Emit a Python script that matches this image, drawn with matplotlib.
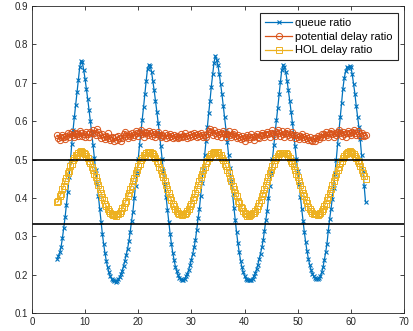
import numpy as np
import matplotlib
matplotlib.use("Agg")
import matplotlib.pyplot as plt

plt.rcParams['font.family'] = ['Liberation Sans', 'DejaVu Sans']

# sampled every 0.25 starting at 4.75
t_start = 4.75
t_step = 0.25

queue_ratio = [
    0.242, 0.249, 0.258, 0.273, 0.296, 0.322, 0.350, 0.382, 0.416, 0.455,
    0.497, 0.540, 0.578, 0.612, 0.643, 0.676, 0.708, 0.741, 0.757,
    0.753, 0.733, 0.710, 0.685, 0.658, 0.630, 0.600, 0.570, 0.538, 0.505,
    0.472, 0.438, 0.404, 0.371, 0.338, 0.307, 0.280, 0.256, 0.236, 0.219,
    0.206, 0.196, 0.189, 0.185, 0.183, 0.182,
    0.184, 0.188, 0.194, 0.202, 0.211, 0.223, 0.237, 0.252, 0.268, 0.287,
    0.312, 0.341, 0.364, 0.400, 0.432, 0.465, 0.502, 0.538, 0.572, 0.604,
    0.636, 0.672, 0.705, 0.737, 0.747,
    0.744, 0.729, 0.705, 0.680, 0.653, 0.625, 0.596, 0.566, 0.534, 0.502,
    0.469, 0.436, 0.402, 0.369, 0.337, 0.307, 0.280, 0.257, 0.238, 0.221,
    0.209, 0.199, 0.192, 0.188, 0.186,
    0.187, 0.190, 0.196, 0.203, 0.213, 0.225, 0.239, 0.254, 0.271, 0.290,
    0.316, 0.347, 0.371, 0.406, 0.440, 0.474, 0.512, 0.549, 0.585, 0.620,
    0.653, 0.690, 0.722, 0.752, 0.770,
    0.760, 0.745, 0.722, 0.697, 0.670, 0.640, 0.610, 0.578, 0.545, 0.512,
    0.478, 0.443, 0.409, 0.375, 0.342, 0.310, 0.282, 0.258, 0.237, 0.220,
    0.207, 0.197, 0.190, 0.186, 0.185, 0.185,
    0.187, 0.190, 0.196, 0.204, 0.214, 0.226, 0.240, 0.255, 0.271, 0.290,
    0.315, 0.343, 0.366, 0.400, 0.432, 0.466, 0.502, 0.537, 0.571, 0.603,
    0.635, 0.670, 0.703, 0.733, 0.747,
    0.740, 0.728, 0.705, 0.680, 0.653, 0.625, 0.596, 0.566, 0.534, 0.502,
    0.469, 0.436, 0.403, 0.371, 0.340, 0.310, 0.284, 0.261, 0.242, 0.226,
    0.213, 0.203, 0.196, 0.191, 0.189,
    0.188, 0.191, 0.196, 0.206, 0.219, 0.238, 0.258, 0.280, 0.315, 0.345,
    0.370, 0.398, 0.427, 0.463, 0.500, 0.540, 0.575, 0.610, 0.648, 0.685,
    0.712, 0.730, 0.741, 0.738, 0.744, 0.741,
    0.722, 0.697, 0.672, 0.640, 0.612, 0.585, 0.553, 0.512, 0.470, 0.432,
    0.390,
]

potential_delay_ratio = [
    0.563, 0.556, 0.551, 0.560, 0.565, 0.558, 0.554, 0.562, 0.568, 0.560,
    0.566, 0.572, 0.563, 0.558, 0.570, 0.566, 0.561, 0.575, 0.569, 0.562,
    0.567, 0.560, 0.571, 0.566, 0.558, 0.573, 0.569, 0.577, 0.570, 0.564,
    0.580, 0.572, 0.563, 0.556, 0.567, 0.560, 0.553, 0.562, 0.568, 0.557,
    0.551, 0.560, 0.556, 0.548, 0.558, 0.552, 0.562, 0.557, 0.547, 0.555,
    0.566, 0.572, 0.561, 0.555, 0.567, 0.562, 0.570, 0.558, 0.565, 0.574,
    0.568, 0.562, 0.571, 0.577, 0.566, 0.560, 0.572, 0.568, 0.563, 0.575,
    0.569, 0.562, 0.573, 0.566, 0.560, 0.567, 0.571, 0.563, 0.558, 0.565,
    0.561, 0.568, 0.557, 0.563, 0.559, 0.566, 0.561, 0.556, 0.564, 0.558,
    0.562, 0.555, 0.560, 0.566, 0.558, 0.562, 0.568, 0.561, 0.557, 0.565,
    0.559, 0.566, 0.562, 0.570, 0.563, 0.558, 0.566, 0.561, 0.569, 0.564,
    0.558, 0.565, 0.560, 0.567, 0.574, 0.580, 0.571, 0.565, 0.576, 0.569,
    0.562, 0.572, 0.566, 0.560, 0.569, 0.575, 0.566, 0.559, 0.567, 0.574,
    0.565, 0.558, 0.566, 0.571, 0.562, 0.557, 0.565, 0.560, 0.554, 0.562,
    0.556, 0.549, 0.558, 0.564, 0.553, 0.560, 0.566, 0.558, 0.552, 0.561,
    0.567, 0.560, 0.555, 0.563, 0.570, 0.564, 0.558, 0.566, 0.573, 0.567,
    0.560, 0.570, 0.576, 0.566, 0.561, 0.571, 0.578, 0.568, 0.562, 0.574,
    0.567, 0.560, 0.569, 0.575, 0.565, 0.558, 0.567, 0.572, 0.563, 0.556,
    0.564, 0.560, 0.554, 0.562, 0.567, 0.559, 0.553, 0.561, 0.556, 0.550,
    0.558, 0.552, 0.547, 0.555, 0.549, 0.556, 0.561, 0.553, 0.559, 0.566,
    0.560, 0.567, 0.572, 0.563, 0.558, 0.568, 0.575, 0.566, 0.560, 0.570,
    0.563, 0.571, 0.577, 0.568, 0.562, 0.573, 0.566, 0.559, 0.568, 0.575,
    0.569, 0.563, 0.572, 0.578, 0.570, 0.565, 0.574, 0.568, 0.562, 0.570,
    0.565, 0.561, 0.563,
]

hol_delay_ratio = [
    0.389, 0.392, 0.405, 0.411, 0.424, 0.431, 0.445, 0.452, 0.465, 0.471,
    0.483, 0.489, 0.499, 0.503, 0.511, 0.513, 0.518, 0.520, 0.521,
    0.520, 0.517, 0.515, 0.509, 0.505, 0.497, 0.491, 0.481, 0.474, 0.463,
    0.455, 0.443, 0.434, 0.422, 0.414, 0.403, 0.395, 0.385, 0.379, 0.371,
    0.367, 0.360, 0.358, 0.355, 0.356, 0.354,
    0.357, 0.359, 0.362, 0.365, 0.373, 0.377, 0.387, 0.393, 0.405, 0.412,
    0.424, 0.432, 0.445, 0.453, 0.465, 0.472, 0.483, 0.489, 0.499, 0.503,
    0.511, 0.513, 0.517, 0.519, 0.518,
    0.520, 0.516, 0.515, 0.509, 0.505, 0.497, 0.491, 0.481, 0.474, 0.463,
    0.455, 0.443, 0.434, 0.422, 0.414, 0.403, 0.395, 0.385, 0.379, 0.371,
    0.367, 0.361, 0.357, 0.357, 0.356,
    0.358, 0.357, 0.362, 0.367, 0.371, 0.379, 0.385, 0.395, 0.403, 0.414,
    0.422, 0.434, 0.443, 0.455, 0.463, 0.474, 0.481, 0.491, 0.497, 0.505,
    0.509, 0.515, 0.517, 0.520, 0.519,
    0.518, 0.519, 0.513, 0.511, 0.503, 0.499, 0.489, 0.483, 0.472, 0.465,
    0.453, 0.445, 0.432, 0.424, 0.412, 0.405, 0.393, 0.387, 0.377, 0.373,
    0.365, 0.362, 0.357, 0.354, 0.353, 0.356,
    0.357, 0.360, 0.361, 0.366, 0.372, 0.379, 0.386, 0.395, 0.404, 0.412,
    0.424, 0.433, 0.444, 0.454, 0.464, 0.472, 0.482, 0.489, 0.498, 0.503,
    0.509, 0.514, 0.516, 0.518, 0.517,
    0.518, 0.517, 0.515, 0.509, 0.504, 0.497, 0.491, 0.482, 0.473, 0.463,
    0.455, 0.444, 0.433, 0.422, 0.413, 0.404, 0.395, 0.386, 0.377, 0.372,
    0.366, 0.360, 0.358, 0.357, 0.358,
    0.356, 0.359, 0.361, 0.367, 0.371, 0.379, 0.385, 0.395, 0.403, 0.414,
    0.422, 0.434, 0.443, 0.455, 0.463, 0.474, 0.481, 0.491, 0.497, 0.505,
    0.509, 0.515, 0.517, 0.520, 0.521, 0.519,
    0.517, 0.515, 0.509, 0.505, 0.497, 0.491, 0.482, 0.474, 0.466, 0.458,
    0.449,
]

ref_lines = [0.5, 1 / 3]

t = t_start + t_step * np.arange(len(queue_ratio))

fig = plt.figure(figsize=(4.14, 3.31), dpi=100)
ax = fig.add_axes([0.077, 0.054, 0.899, 0.928])

ax.plot(t, queue_ratio, color='#0072BD', lw=0.9, marker='x', ms=3,
        mew=0.8, label='queue ratio')
ax.plot(t, potential_delay_ratio, color='#D95319', lw=0.9, marker='o', ms=4.5,
        mfc='none', mew=0.7, label='potential delay ratio')
ax.plot(t, hol_delay_ratio, color='#EDB120', lw=0.9, marker='s', ms=4,
        mfc='none', mew=0.7, label='HOL delay ratio')

for y in ref_lines:
    ax.axhline(y, color='black', lw=1.2)

ax.set_xlim(0, 70)
ax.set_ylim(0.1, 0.9)
ax.set_xticks(np.arange(0, 71, 10))
ax.set_yticks(np.arange(0.1, 0.91, 0.1))
ax.set_yticklabels([f'{v:.1f}' for v in np.arange(0.1, 0.91, 0.1)])

ax.tick_params(direction='in', top=True, right=True, length=3, width=0.6,
               labelsize=7, colors='#262626', pad=3)
for s in ax.spines.values():
    s.set_color('#262626')
    s.set_linewidth(0.6)

leg = ax.legend(loc='upper right', bbox_to_anchor=(0.983, 0.978),
                borderaxespad=0, fontsize=8, fancybox=False, framealpha=1,
                edgecolor='#262626', handlelength=2.4, labelspacing=0.35,
                handletextpad=0.3, borderpad=0.45)
leg.get_frame().set_linewidth(0.8)

fig.savefig('out.png', dpi=100)
